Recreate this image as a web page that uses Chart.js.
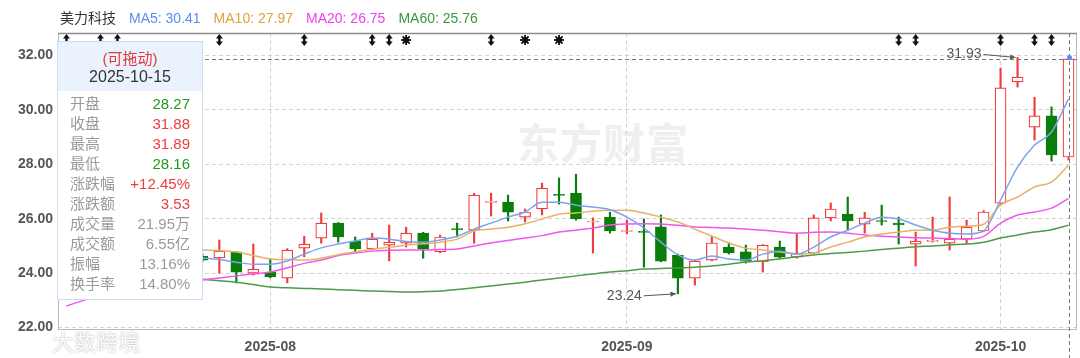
<!DOCTYPE html>
<html lang="zh">
<head>
<meta charset="UTF-8">
<title>美力科技 日K</title>
<script src="https://cdn.jsdelivr.net/npm/chart.js@4"></script>
<style>
  html, body { margin: 0; padding: 0; background: #fff; }
  body {
    width: 1080px; height: 358px; position: relative; overflow: hidden;
    font-family: "Liberation Sans", Arial, "Noto Sans CJK SC", sans-serif;
  }
  #c { position: absolute; left: 0; top: 0; }
  .legend { position: absolute; left: 60px; top: 8px; font-size: 14px; line-height: 20px; white-space: nowrap; }
  .legend span { margin-right: 13px; }
  .wm { position: absolute; left: 517px; top: 116px; font-size: 42px; font-weight: bold; color: #efefef;
        font-family: "Noto Sans CJK SC", sans-serif; letter-spacing: 1px; line-height: 50px; }
  .wm2 { position: absolute; left: 52px; top: 327px; font-size: 22px; color: rgba(255,255,255,0.92);
         font-family: "Noto Sans CJK SC", sans-serif; text-shadow: 0 0 2px rgba(0,0,0,0.35); line-height: 26px; }
  .tip { position: absolute; left: 57px; top: 41px; width: 146px; height: 259px; box-sizing: border-box;
         background: #fff; border: 1px solid #c9ddf6; font-size: 15px; }
  .tip .head { position: absolute; left: 0; top: 0; right: 0; height: 49px; background: #e9f2fd; text-align: center; }
  .tip .drag { position: absolute; left: 0; right: 0; top: 8px; line-height: 18px; color: #e23a3a; }
  .tip .date { position: absolute; left: 0; right: 0; top: 26px; line-height: 18px; color: #333; font-size: 16px; }
  .tip .row { position: absolute; left: 12px; right: 12px; height: 20px; line-height: 20px; }
  .tip .k { float: left; color: #9a9a9a; }
  .tip .v { float: right; }
</style>
</head>
<body>
<div class="wm">东方财富</div>
<canvas id="c" width="1080" height="358"></canvas>
<div class="legend" id="legend"></div>
<div class="tip" id="tip">
  <div class="head"><div class="drag">(可拖动)</div><div class="date" id="tipDate"></div></div>
</div>
<div class="wm2">大数跨境</div>
<script>
// 交易日
const dates = [
  '2025-07-16','2025-07-17','2025-07-18','2025-07-21','2025-07-22','2025-07-23','2025-07-24','2025-07-25',
  '2025-07-28','2025-07-29','2025-07-30','2025-07-31',
  '2025-08-01','2025-08-04','2025-08-05','2025-08-06','2025-08-07','2025-08-08','2025-08-11','2025-08-12',
  '2025-08-13','2025-08-14','2025-08-15','2025-08-18','2025-08-19','2025-08-20','2025-08-21','2025-08-22',
  '2025-08-25','2025-08-26','2025-08-27','2025-08-28','2025-08-29',
  '2025-09-01','2025-09-02','2025-09-03','2025-09-04','2025-09-05','2025-09-08','2025-09-09','2025-09-10',
  '2025-09-11','2025-09-12','2025-09-15','2025-09-16','2025-09-17','2025-09-18','2025-09-19','2025-09-22',
  '2025-09-23','2025-09-24','2025-09-25','2025-09-26','2025-09-29','2025-09-30',
  '2025-10-09','2025-10-10','2025-10-13','2025-10-14','2025-10-15'
];

// K线
const opens = [24.35,24.55,24.80,24.60,24.70,24.55,24.45,24.62,24.62,24.56,24.78,24.00,24.04,23.82,24.92,25.29,
  25.84,25.18,24.89,25.03,25.10,25.47,24.78,25.62,25.58,26.60,26.61,26.06,26.36,26.90,26.94,25.88,26.06,
  25.53,25.53,25.70,24.66,23.82,24.48,24.96,24.78,24.41,24.96,24.59,24.74,26.03,26.17,25.80,25.93,25.84,
  25.07,25.17,25.10,25.25,25.55,26.57,31.03,29.37,29.78,28.27];
const highs = [24.70,24.90,25.10,24.85,25.05,24.80,24.75,24.85,24.70,25.22,24.80,25.07,24.52,24.90,25.36,26.21,
  25.86,25.33,25.47,25.77,25.69,25.50,25.40,25.84,26.94,26.94,26.87,26.36,27.31,27.50,27.64,26.03,26.24,
  25.95,25.99,26.14,24.70,24.48,25.36,25.11,25.03,25.05,25.18,25.47,26.14,26.58,26.80,26.24,26.50,26.06,
  25.51,26.06,26.80,25.95,26.30,31.54,31.93,30.47,30.11,31.89];
const lows = [24.20,24.40,24.55,24.35,24.50,24.30,24.25,24.40,24.42,24.00,23.64,23.93,23.83,23.64,24.60,25.10,
  25.14,24.78,24.85,24.45,24.96,24.55,24.75,25.33,25.10,26.10,25.92,25.88,26.14,26.54,25.95,24.74,25.47,
  25.44,24.22,24.42,23.24,23.56,24.45,24.70,24.37,24.04,24.55,24.55,24.72,25.92,25.58,25.47,25.77,25.07,
  24.26,25.14,24.85,25.10,25.52,26.50,30.84,28.89,28.12,28.16];
const closes = [24.55,24.80,24.62,24.70,24.58,24.45,24.60,24.66,24.48,24.81,24.04,24.15,23.86,24.85,25.07,25.84,
  25.33,24.89,25.25,25.14,25.47,24.89,25.33,25.60,26.87,26.62,26.24,26.25,27.13,26.86,25.99,25.91,25.55,
  25.57,25.50,24.44,23.82,24.44,25.11,24.74,24.44,25.03,24.59,24.74,26.03,26.36,25.92,26.03,25.90,25.77,
  25.18,25.20,25.25,25.69,26.25,30.81,31.21,29.78,28.35,31.88];

// 均线
const ma5 = [24.50,24.55,24.60,24.62,24.65,24.62,24.60,24.58,24.55,24.50,24.40,24.33,24.33,24.45,24.70,24.93,
  25.07,25.18,25.29,25.25,25.16,25.14,25.22,25.36,25.62,25.84,26.06,26.25,26.61,26.61,26.50,26.43,26.33,
  26.06,25.66,25.14,24.67,24.48,24.63,24.52,24.48,24.70,24.81,24.70,24.96,25.33,25.58,25.84,26.06,25.99,
  25.77,25.58,25.47,25.44,25.55,26.69,27.90,28.71,29.19,30.41];
const ma10 = [24.70,24.72,24.75,24.78,24.80,24.82,24.84,24.85,24.85,24.83,24.78,24.65,24.52,24.50,24.48,24.55,
  24.68,24.78,24.88,24.95,25.03,25.08,25.14,25.25,25.55,25.62,25.69,25.82,25.99,26.17,26.21,26.28,26.31,
  26.31,26.21,26.06,25.88,25.62,25.36,25.11,24.92,24.85,24.78,24.70,24.74,24.96,25.14,25.33,25.44,25.51,
  25.58,25.58,25.69,25.73,25.80,26.51,26.80,27.17,27.35,27.97];
const ma20 = [22.79,23.00,23.20,23.35,23.45,23.55,23.62,23.68,23.75,23.82,23.90,23.97,24.04,24.20,24.36,24.48,
  24.65,24.74,24.81,24.84,24.85,24.85,24.87,24.89,25.00,25.11,25.20,25.29,25.38,25.51,25.58,25.66,25.77,
  25.81,25.82,25.81,25.76,25.70,25.68,25.66,25.62,25.58,25.52,25.47,25.50,25.51,25.47,25.40,25.36,25.33,
  25.30,25.29,25.27,25.25,25.35,25.84,26.14,26.25,26.39,26.75];
const ma60 = [24.20,24.15,24.10,24.05,24.00,23.95,23.90,23.84,23.78,23.72,23.67,23.58,23.49,23.46,23.44,23.42,
  23.39,23.37,23.34,23.33,23.31,23.32,23.34,23.40,23.46,23.53,23.60,23.67,23.75,23.82,23.90,23.97,24.04,
  24.09,24.15,24.17,24.19,24.22,24.26,24.33,24.41,24.46,24.52,24.60,24.67,24.72,24.76,24.81,24.87,24.92,
  24.97,25.00,25.04,25.07,25.14,25.29,25.40,25.51,25.60,25.76];

// 顶部事件标记 (K线序号)
const arrowIdx = [0, 2, 3, 9, 14, 18, 19, 25, 49, 50, 55, 57, 58];
const starIdx = [20, 27, 29];

const yTicks = [22, 24, 26, 28, 30, 32];

const UP = '#f03c3c', DOWN = '#0a7d0a';
const last = dates.length - 1;
const isUp = i => closes[i] >= opens[i];
const monthStart = i => i > 0 && dates[i].slice(0, 7) !== dates[i - 1].slice(0, 7);

// 图例
const maInfo = [
  ['MA5', ma5, '#5b8cf0', '#79a3f2'],
  ['MA10', ma10, '#e0a23a', '#e6b366'],
  ['MA20', ma20, '#ee3fee', '#f056f0'],
  ['MA60', ma60, '#3c963c', '#4a9c4a']
];
document.getElementById('legend').innerHTML =
  '<span style="color:#333">美力科技</span>' +
  maInfo.map(m => `<span style="color:${m[2]}">${m[0]}: ${m[1][last].toFixed(2)}</span>`).join('');

// 浮动提示框
const prevClose = closes[last - 1];
const tipRows = [
  ['开盘', opens[last].toFixed(2), opens[last] >= prevClose ? UP : '#1f9a1f'],
  ['收盘', closes[last].toFixed(2), closes[last] >= prevClose ? UP : '#1f9a1f'],
  ['最高', highs[last].toFixed(2), highs[last] >= prevClose ? UP : '#1f9a1f'],
  ['最低', lows[last].toFixed(2), lows[last] >= prevClose ? UP : '#1f9a1f'],
  ['涨跌幅', '+12.45%', UP],
  ['涨跌额', '3.53', UP],
  ['成交量', '21.95万', '#9a9a9a'],
  ['成交额', '6.55亿', '#9a9a9a'],
  ['振幅', '13.16%', '#9a9a9a'],
  ['换手率', '14.80%', '#9a9a9a']
];
const tip = document.getElementById('tip');
document.getElementById('tipDate').textContent = dates[last];
tipRows.forEach((r, k) => {
  const d = document.createElement('div');
  d.className = 'row';
  d.style.top = (52 + 20 * k) + 'px';
  d.innerHTML = `<span class="k">${r[0]}</span><span class="v" style="color:${r[2]}">${r[1]}</span>`;
  tip.appendChild(d);
});

function drawArrow(ctx, px, top) {
  ctx.fillStyle = '#111';
  ctx.fillRect(px - 1.2, top + 2, 2.4, 8);
  ctx.beginPath(); ctx.moveTo(px - 3.5, top + 4.5); ctx.lineTo(px + 3.5, top + 4.5); ctx.lineTo(px, top); ctx.fill();
  ctx.beginPath(); ctx.moveTo(px - 3.5, top + 7.5); ctx.lineTo(px + 3.5, top + 7.5); ctx.lineTo(px, top + 12); ctx.fill();
}

function drawStar(ctx, px, cy) {
  ctx.strokeStyle = '#111'; ctx.fillStyle = '#111'; ctx.lineWidth = 1.8;
  for (let k = 0; k < 4; k++) {
    const a = k * Math.PI / 4;
    ctx.beginPath();
    ctx.moveTo(px - 5 * Math.cos(a), cy - 5 * Math.sin(a));
    ctx.lineTo(px + 5 * Math.cos(a), cy + 5 * Math.sin(a));
    ctx.stroke();
  }
  ctx.beginPath(); ctx.arc(px, cy, 3, 0, Math.PI * 2); ctx.fill();
}

function drawNote(ctx, px, py, text, dy) {
  const tx = px - 36, ty = py + dy;
  ctx.font = '14px "Liberation Sans", Arial, sans-serif';
  ctx.fillStyle = '#555'; ctx.strokeStyle = '#555'; ctx.lineWidth = 1;
  ctx.textAlign = 'right'; ctx.textBaseline = 'middle';
  ctx.fillText(text, tx, ty);
  const ex = px - 2;
  ctx.beginPath(); ctx.moveTo(tx + 2, ty); ctx.lineTo(ex, py); ctx.stroke();
  const ang = Math.atan2(py - ty, ex - tx - 2);
  ctx.beginPath();
  ctx.moveTo(ex, py);
  ctx.lineTo(ex - 6 * Math.cos(ang - 0.45), py - 6 * Math.sin(ang - 0.45));
  ctx.lineTo(ex - 6 * Math.cos(ang + 0.45), py - 6 * Math.sin(ang + 0.45));
  ctx.closePath(); ctx.fill();
}

const overlay = {
  id: 'overlay',
  beforeDatasetsDraw(chart) {
    const { ctx, chartArea: a } = chart;
    ctx.save();
    ctx.strokeStyle = '#b9b9b9'; ctx.lineWidth = 1;
    ctx.strokeRect(a.left + 0.5, a.top + 0.5, a.width - 1, a.height - 1);
    ctx.strokeStyle = '#8c8c8c'; ctx.lineWidth = 1.5;
    ctx.beginPath(); ctx.moveTo(a.left, a.top + 0.5); ctx.lineTo(a.right, a.top + 0.5); ctx.stroke();
    ctx.restore();
  },
  afterDatasetsDraw(chart) {
    const { ctx, chartArea: a, scales: { x, y } } = chart;
    ctx.save();
    // 十字光标
    const cx = Math.round(x.getPixelForValue(last)) + 0.5;
    const cy = Math.round(y.getPixelForValue(closes[last])) + 0.5;
    ctx.setLineDash([4, 3]); ctx.strokeStyle = '#777'; ctx.lineWidth = 1;
    ctx.beginPath(); ctx.moveTo(cx, a.top); ctx.lineTo(cx, chart.height); ctx.stroke();
    ctx.beginPath(); ctx.moveTo(a.left, cy); ctx.lineTo(a.right, cy); ctx.stroke();
    ctx.setLineDash([]);
    ctx.fillStyle = '#5b8cf0';
    ctx.beginPath(); ctx.arc(cx, cy - 2, 2.5, 0, Math.PI * 2); ctx.fill();

    // 事件标记
    arrowIdx.forEach(i => drawArrow(ctx, x.getPixelForValue(i), a.top + 1));
    starIdx.forEach(i => drawStar(ctx, x.getPixelForValue(i), a.top + 7));

    // 区间最高/最低
    let hi = 0, lo = 0;
    highs.forEach((v, i) => { if (v > highs[hi]) hi = i; });
    lows.forEach((v, i) => { if (v < lows[lo]) lo = i; });
    drawNote(ctx, x.getPixelForValue(hi), y.getPixelForValue(highs[hi]), highs[hi].toFixed(2), -3);
    drawNote(ctx, x.getPixelForValue(lo), y.getPixelForValue(lows[lo]), lows[lo].toFixed(2), 2);
    ctx.restore();
  }
};

Chart.defaults.font.family = '"Liberation Sans", Arial, sans-serif';

const candleColor = c => isUp(c.dataIndex) ? UP : DOWN;

new Chart(document.getElementById('c'), {
  type: 'bar',
  data: {
    labels: dates,
    datasets: [
      ...maInfo.map(m => ({
        type: 'line', label: m[0], data: m[1], order: 0,
        borderColor: m[3], borderWidth: 1.5, pointRadius: 0,
        cubicInterpolationMode: 'monotone', fill: false
      })),
      {
        label: '实体', order: 1, grouped: false,
        data: opens.map((o, i) => [o, closes[i]]),
        barThickness: 11, minBarLength: 1, borderWidth: 1.2, borderSkipped: false,
        borderColor: candleColor,
        backgroundColor: c => isUp(c.dataIndex) ? '#ffffff' : DOWN
      },
      {
        label: '影线', order: 2, grouped: false,
        data: lows.map((l, i) => [l, highs[i]]),
        barThickness: 1.5, borderWidth: 0,
        backgroundColor: candleColor
      }
    ]
  },
  options: {
    responsive: false,
    devicePixelRatio: 1,
    animation: false,
    layout: { padding: { top: 33, right: 3, left: 0, bottom: 0 } },
    plugins: { legend: { display: false }, tooltip: { enabled: false } },
    scales: {
      x: {
        offset: true,
        grid: {
          offset: false, drawTicks: false,
          color: c => monthStart(c.index) ? '#d2d2d2' : 'rgba(0,0,0,0)'
        },
        border: { display: false, dash: [4, 3] },
        ticks: {
          autoSkip: false, maxRotation: 0, padding: 9,
          color: '#555', font: { size: 14, weight: 'bold' },
          callback: (v, i) => monthStart(i) ? dates[i].slice(0, 7) : ''
        },
        afterFit: s => { s.height = 28; }
      },
      y: {
        min: 21.91, max: 32.83,
        afterBuildTicks: s => { s.ticks = yTicks.map(v => ({ value: v })); },
        grid: { drawTicks: false, color: '#d2d2d2' },
        border: { display: false, dash: [4, 3] },
        ticks: {
          padding: 5, color: '#555', font: { size: 14, weight: 'bold' },
          callback: v => Number(v).toFixed(2)
        },
        afterFit: s => { s.width = 58; }
      }
    }
  },
  plugins: [overlay]
});
</script>
</body>
</html>
